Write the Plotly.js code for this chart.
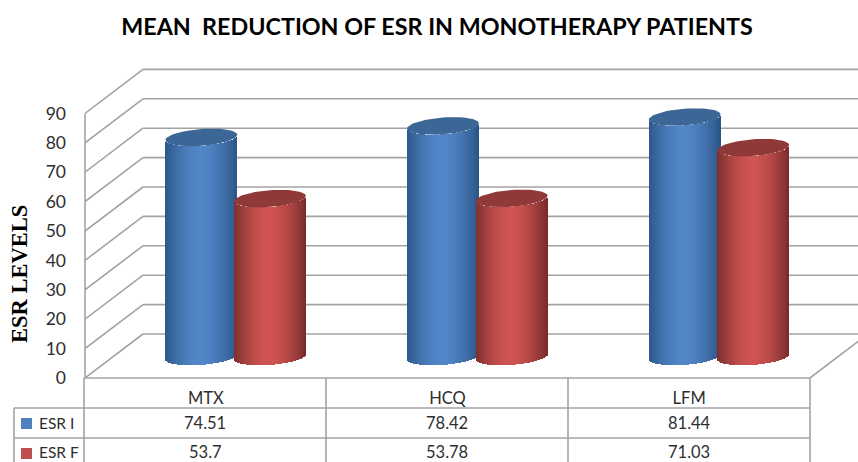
<!DOCTYPE html>
<html><head><meta charset="utf-8">
<script src="https://cdn.plot.ly/plotly-3.0.1.min.js"></script>
<style>html,body{margin:0;padding:0;background:#fff}#c{width:858px;height:462px}</style>
</head><body><div id="c"></div>
<script>
const categories = ['MTX','HCQ','LFM'];
const esrI = [74.51,78.42,81.44];
const esrF = [53.7,53.78,71.03];
const seriesNames = ['ESR I','ESR F'];
const yTicks = [0,10,20,30,40,50,60,70,80,90];
const titleText = 'MEAN  REDUCTION OF ESR IN MONOTHERAPY PATIENTS';
const yTitleText = 'ESR LEVELS';

const W=858,H=462,L=85,B=378,T=60;
const PXU=2.94, CAT=241.67;
const xu=p=>p/CAT, yu=p=>p/PXU;
const xMax=(W-L)/CAT, yMax=(B-T)/PXU;
const dx=xu(58), dy=yu(44);
const paperX=p=>(p-L)/(W-L), paperY=p=>(B-p)/(B-T);
const GRID='#a3a3a3', TXT='#2e2e2e';
const level=yu(21.5), hw=xu(35.9), off=xu(34.3), eb=yu(8.4), tilt=yu(2.6), shiftX=xu(0.8);
const N=48;

function mix(a,b,t){return 'rgb('+a.map((v,i)=>Math.round(v+(b[i]-v)*t)).join(',')+')';}
function shade(u,dark,light){const t=Math.max(0,1-Math.pow(Math.abs(u+0.02)/1.02,1.7));return mix(dark,light,t);}

const blue={dark:[42,84,134],light:[82,134,200],top:'#3c6696'};
const red={dark:[118,44,43],light:[207,84,82],top:'#8f3a38'};

function cylTraces(values,name,sign,col){
  const xs=[],ys=[],bases=[],cols=[],ws=[];
  const tops=[];
  values.forEach((v,i)=>{
    const cx=i+0.5+dx/2+sign*off+shiftX;
    for(let k=0;k<N;k++){
      const u=-1+(2*k+1)/N;
      xs.push(cx+u*hw);ys.push(v);
      bases.push(level+tilt*u-eb*Math.sqrt(1-u*u));
      cols.push(shade(u,col.dark,col.light));
      ws.push(2*hw/N*1.25);
    }
    const ex=[],ey=[];
    for(let a=0;a<=72;a++){
      const t=a/72*2*Math.PI;
      ex.push(cx+hw*Math.cos(t));
      ey.push(level+v+tilt*Math.cos(t)+eb*Math.sin(t));
    }
    tops.push({type:'scatter',mode:'lines',x:ex,y:ey,fill:'toself',fillcolor:col.top,line:{width:0,color:col.top},hoverinfo:'skip',showlegend:false});
  });
  return [{type:'bar',name:name,x:xs,y:ys,base:bases,width:ws,marker:{color:cols,line:{width:0}},hoverinfo:'skip',showlegend:false},...tops];
}

const traces=[...cylTraces(esrI,seriesNames[0],-1,blue),...cylTraces(esrF,seriesNames[1],1,red)];

const gl={color:GRID,width:1.6};
const shapes=[];
yTicks.forEach(t=>{
  shapes.push({type:'line',layer:'below',xref:'x',yref:'y',x0:0,x1:dx,y0:t,y1:t+dy,line:gl});
  shapes.push({type:'line',layer:'below',xref:'x',yref:'y',x0:dx,x1:dx+3,y0:t+dy,y1:t+dy,line:gl});
});
shapes.push({type:'line',layer:'below',xref:'paper',yref:'y',x0:0,x1:0,y0:0,y1:90,line:gl});
shapes.push({type:'line',layer:'below',xref:'x',yref:'y',x0:3,x1:3+dx,y0:0,y1:dy,line:gl});
[84,326,568,810].forEach(p=>shapes.push({type:'line',xref:'paper',yref:'paper',x0:paperX(p),x1:paperX(p),y0:paperY(378),y1:paperY(462),line:gl}));
shapes.push({type:'line',xref:'paper',yref:'paper',x0:paperX(14),x1:paperX(14),y0:paperY(408),y1:paperY(462),line:gl});
shapes.push({type:'line',xref:'paper',yref:'paper',x0:paperX(84),x1:paperX(810),y0:paperY(378),y1:paperY(378),line:gl});
[408,438].forEach(p=>shapes.push({type:'line',xref:'paper',yref:'paper',x0:paperX(14),x1:paperX(810),y0:paperY(p),y1:paperY(p),line:gl}));
[[418,'#4f81bd'],[448,'#c0504d']].forEach(([p,c])=>shapes.push({type:'rect',xref:'paper',yref:'paper',x0:paperX(21),x1:paperX(32),y0:paperY(p),y1:paperY(p+11),fillcolor:c,line:{width:0}}));

const anns=[];
const cell=(text,xp,yp,anchor,size)=>({text:text,xref:'paper',yref:'paper',x:paperX(xp),y:paperY(yp),xanchor:anchor||'center',yanchor:'middle',showarrow:false,borderpad:0,font:{family:'Lato',size:size||16.5,color:TXT}});
[esrI,esrF].forEach((vals,r)=>{
  const yp=r===0?423:451.5;
  anns.push(cell(seriesNames[r],37.5,yp,'left',15.5));
  vals.forEach((v,i)=>anns.push(cell(String(v),205+i*242,yp)));
});
anns.push({text:yTitleText,xref:'paper',yref:'paper',x:paperX(19),y:paperY(274),xanchor:'center',yanchor:'middle',textangle:-90,showarrow:false,font:{family:'Liberation Serif',size:22.5,color:'#000',weight:700}});

const layout={
  width:W,height:H,margin:{l:L,r:0,t:T,b:H-B,pad:0},
  paper_bgcolor:'#fff',plot_bgcolor:'rgba(0,0,0,0)',
  title:{text:'<b>'+titleText+'</b>',font:{family:'Lato',size:23.3,color:'#000'},x:437/W,xanchor:'center',y:1-27/H,yanchor:'middle'},
  barmode:'overlay',bargap:0,showlegend:false,
  xaxis:{range:[0,xMax],tickmode:'array',tickvals:[0.5,1.5,2.5],ticktext:categories,showgrid:false,zeroline:false,showline:false,ticks:'',ticklabelstandoff:8,tickfont:{family:'Lato',size:16.5,color:TXT}},
  yaxis:{range:[0,yMax],tickmode:'array',tickvals:yTicks,showgrid:false,zeroline:false,showline:false,ticks:'',ticklabelstandoff:18,tickfont:{family:'Lato',size:17.5,color:TXT}},
  shapes:shapes,annotations:anns
};
Plotly.newPlot('c',traces,layout,{displayModeBar:false,staticPlot:true});
</script></body></html>
